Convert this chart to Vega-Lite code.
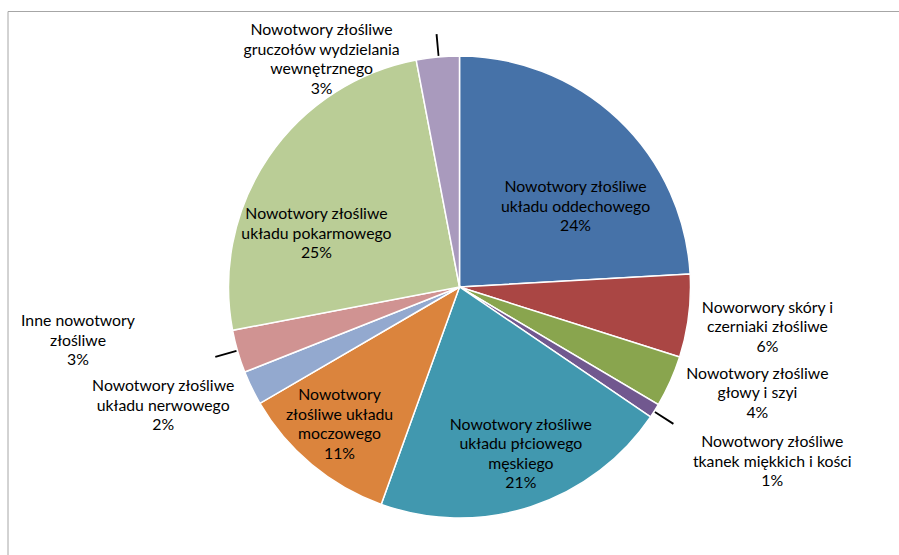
{
  "$schema": "https://vega.github.io/schema/vega-lite/v6.json",
  "width": 903,
  "height": 551,
  "autosize": "none",
  "padding": {"left": 8, "top": 11.5, "right": 0, "bottom": 0},
  "background": "white",
  "config": {
    "view": {"stroke": null},
    "text": {"font": "Lato", "fontSize": 15.8, "lineHeight": 19.5, "lineBreak": "\n", "align": "center", "baseline": "middle", "color": "#000000"}
  },
  "data": {
    "values": [
      {"name": "oddechowy", "label": "Nowotwory złośliwe\nukładu oddechowego\n24%", "value": 24.1},
      {"name": "skora", "label": "Noworwory skóry i\nczerniaki złośliwe\n6%", "value": 5.8},
      {"name": "glowa", "label": "Nowotwory złośliwe\ngłowy i szyi\n4%", "value": 3.6},
      {"name": "tkanki", "label": "Nowotwory złośliwe\ntkanek miękkich i kości\n1%", "value": 1.0},
      {"name": "plciowy", "label": "Nowotwory złośliwe\nukładu płciowego\nmęskiego\n21%", "value": 21.0},
      {"name": "moczowy", "label": "Nowotwory\nzłośliwe układu\nmoczowego\n11%", "value": 11.1},
      {"name": "nerwowy", "label": "Nowotwory złośliwe\nukładu nerwowego\n2%", "value": 2.4},
      {"name": "inne", "label": "Inne nowotwory\nzłośliwe\n3%", "value": 3.0},
      {"name": "pokarmowy", "label": "Nowotwory złośliwe\nukładu pokarmowego\n25%", "value": 25.0},
      {"name": "gruczoly", "label": "Nowotwory złośliwe\ngruczołów wydzielania\nwewnętrznego\n3%", "value": 3.0}
    ]
  },
  "transform": [
    {"stack": "value", "groupby": [], "as": ["v0", "v1"]},
    {"calculate": "(datum.v0 + datum.v1) / 2", "as": "mid"}
  ],
  "layer": [
    {
      "transform": [{"filter": "datum.name === 'oddechowy'"}],
      "mark": {"type": "rect", "filled": false, "color": "#a6a6a6", "strokeWidth": 1},
      "encoding": {}
    },
    {
      "mark": {"type": "arc", "outerRadius": 231, "stroke": "white", "strokeWidth": 1.5},
      "encoding": {
        "theta": {"field": "v0", "type": "quantitative", "scale": {"domain": [0, 100]}},
        "theta2": {"field": "v1"},
        "color": {
          "field": "name",
          "type": "nominal",
          "scale": {
            "domain": ["oddechowy", "skora", "glowa", "tkanki", "plciowy", "moczowy", "nerwowy", "inne", "pokarmowy", "gruczoly"],
            "range": ["#4672A8", "#AA4644", "#89A54E", "#71588F", "#4198AF", "#DB843D", "#93A9CF", "#D09392", "#BACD96", "#A99ABD"]
          },
          "legend": null
        }
      }
    },
    {
      "transform": [
        {"filter": "indexof(['tkanki', 'inne', 'gruczoly'], datum.name) >= 0"},
        {"calculate": "datum.mid + 0.12", "as": "mid2"}
      ],
      "mark": {"type": "arc", "color": "#000000"},
      "encoding": {
        "theta": {"field": "mid", "type": "quantitative"},
        "theta2": {"field": "mid2"},
        "radius": {"value": 254},
        "radius2": {"value": 232}
      }
    },
    {
      "transform": [{"filter": "datum.name === 'oddechowy'"}],
      "mark": {"type": "text", "dx": 13, "dy": 9.5},
      "encoding": {"theta": {"field": "mid", "type": "quantitative", "stack": null}, "radius": {"value": 150}, "text": {"field": "label"}}
    },
    {
      "transform": [{"filter": "datum.name === 'plciowy'"}],
      "mark": {"type": "text", "dx": 15, "dy": -5},
      "encoding": {"theta": {"field": "mid", "type": "quantitative", "stack": null}, "radius": {"value": 150}, "text": {"field": "label"}}
    },
    {
      "transform": [{"filter": "datum.name === 'moczowy'"}],
      "mark": {"type": "text", "dx": -24, "dy": -7},
      "encoding": {"theta": {"field": "mid", "type": "quantitative", "stack": null}, "radius": {"value": 150}, "text": {"field": "label"}}
    },
    {
      "transform": [{"filter": "datum.name === 'pokarmowy'"}],
      "mark": {"type": "text", "dx": -19, "dy": 11.5},
      "encoding": {"theta": {"field": "mid", "type": "quantitative", "stack": null}, "radius": {"value": 150}, "text": {"field": "label"}}
    },
    {
      "transform": [{"filter": "datum.name === 'skora'"}],
      "mark": {"type": "text", "dx": 45, "dy": -12.5},
      "encoding": {"theta": {"field": "mid", "type": "quantitative", "stack": null}, "radius": {"value": 265}, "text": {"field": "label"}}
    },
    {
      "transform": [{"filter": "datum.name === 'glowa'"}],
      "mark": {"type": "text", "dx": 56, "dy": -21.5},
      "encoding": {"theta": {"field": "mid", "type": "quantitative", "stack": null}, "radius": {"value": 265}, "text": {"field": "label"}}
    },
    {
      "transform": [{"filter": "datum.name === 'tkanki'"}],
      "mark": {"type": "text", "dx": 89, "dy": 13.5},
      "encoding": {"theta": {"field": "mid", "type": "quantitative", "stack": null}, "radius": {"value": 265}, "text": {"field": "label"}}
    },
    {
      "transform": [{"filter": "datum.name === 'nerwowy'"}],
      "mark": {"type": "text", "dx": -58, "dy": -16.5},
      "encoding": {"theta": {"field": "mid", "type": "quantitative", "stack": null}, "radius": {"value": 265}, "text": {"field": "label"}}
    },
    {
      "transform": [{"filter": "datum.name === 'inne'"}],
      "mark": {"type": "text", "dx": -127, "dy": -39.5},
      "encoding": {"theta": {"field": "mid", "type": "quantitative", "stack": null}, "radius": {"value": 265}, "text": {"field": "label"}}
    },
    {
      "transform": [{"filter": "datum.name === 'gruczoly'"}],
      "mark": {"type": "text", "dx": -113, "dy": 7},
      "encoding": {"theta": {"field": "mid", "type": "quantitative", "stack": null}, "radius": {"value": 265}, "text": {"field": "label"}}
    }
  ]
}
